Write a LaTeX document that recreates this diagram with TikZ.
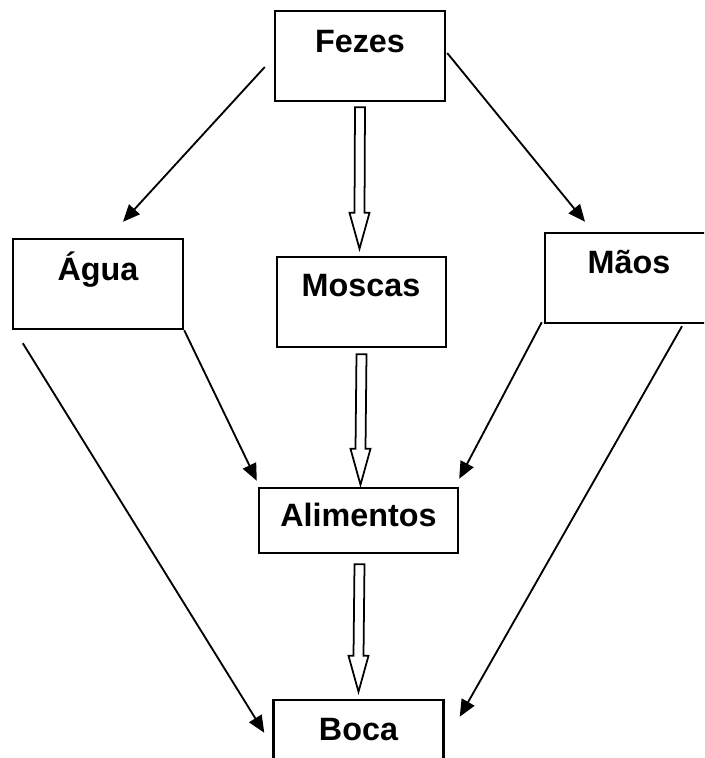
\documentclass[tikz,border=0pt]{standalone}
\usepackage{fontspec}
\setmainfont{Liberation Sans}
\usetikzlibrary{arrows.meta,calc}

\tikzset{
  caixa/.style={draw, line width=1.4pt, minimum width=3.4cm, minimum height=1.8cm, inner sep=0pt},
  rotulo/.style={anchor=base, inner sep=0pt, font=\bfseries\fontsize{18.4}{22}\selectfont},
  seta/.style={line width=1.05pt, -{Triangle[length=0.34cm,width=0.29cm]}},
  blocoseta/.style={draw, line width=1pt, fill=white, line join=miter},
}

% hollow block arrow from #1 down to the tip #2
\newcommand{\blocoseta}[2]{%
  \draw[blocoseta] ($(#1)+(-5,0)$) -- ($(#2)+(-5,-36)$) -- ($(#2)+(-10,-36)$)
    -- (#2) -- ($(#2)+(10,-36)$) -- ($(#2)+(5,-36)$) -- ($(#1)+(5,0)$) -- cycle;}

\begin{document}
\begin{tikzpicture}[x=0.02cm, y=-0.02cm]
    \clip (0,0) rectangle (704,758);

    % Boxes
    \node[caixa] (fezes) at (360,56) {};
    \node[caixa] (agua) at (98,284) {};
    \node[caixa, minimum width=3.38cm] (moscas) at (361.5,302) {};
    \node[caixa] (maos) at (630,278) {};
    \node[caixa, minimum width=3.98cm, minimum height=1.3cm] (alimentos) at (358.5,520.5) {};
    \node[caixa] (boca) at (358.5,745) {};

    % Labels, sitting high in the boxes
    \node[rotulo] (tfezes) at (360,52) {Fezes};
    \node[rotulo] (tagua) at (98,280) {Água};
    \node[rotulo] (tmoscas) at (361,296) {Moscas};
    \node[rotulo] (tmaos) at (629,273) {Mãos};
    \node[rotulo] (talimentos) at (358.5,526) {Alimentos};
    \node[rotulo] (tboca) at (358.5,740) {Boca};

    % Hollow arrows down the middle
    \coordinate (b1) at ($(fezes.south)+(0,5)$);
    \coordinate (p1) at ($(moscas.north)+(-2,-7)$);
    \blocoseta{b1}{p1}
    \coordinate (b2) at ($(moscas.south)+(0,6)$);
    \coordinate (p2) at ($(alimentos.north)+(2,-2)$);
    \blocoseta{b2}{p2}
    \coordinate (b3) at ($(alimentos.south)+(1,10)$);
    \coordinate (p3) at ($(boca.north)+(0,-7)$);
    \blocoseta{b3}{p3}

    % Thin arrows on the sides
    \draw[seta] ($(fezes.west)+(-9,11)$) -- ($(agua.north)+(25,-16)$);
    \draw[seta] ($(fezes.east)+(1,-3)$) -- ($(maos.north)+(-45,-10)$);
    \draw[seta] (agua.south east) -- ($(alimentos.north west)+(-1,-6)$);
    \draw[seta] ($(agua.south west)+(11,13)$) -- ($(boca.north west)+(-8,34)$);
    \draw[seta] ($(maos.south west)+(-2,-2)$) -- ($(alimentos.north east)+(0,-8)$);
    \draw[seta] ($(maos.south)+(52,2)$) -- ($(boca.north east)+(15,18)$);
\end{tikzpicture}
\end{document}
